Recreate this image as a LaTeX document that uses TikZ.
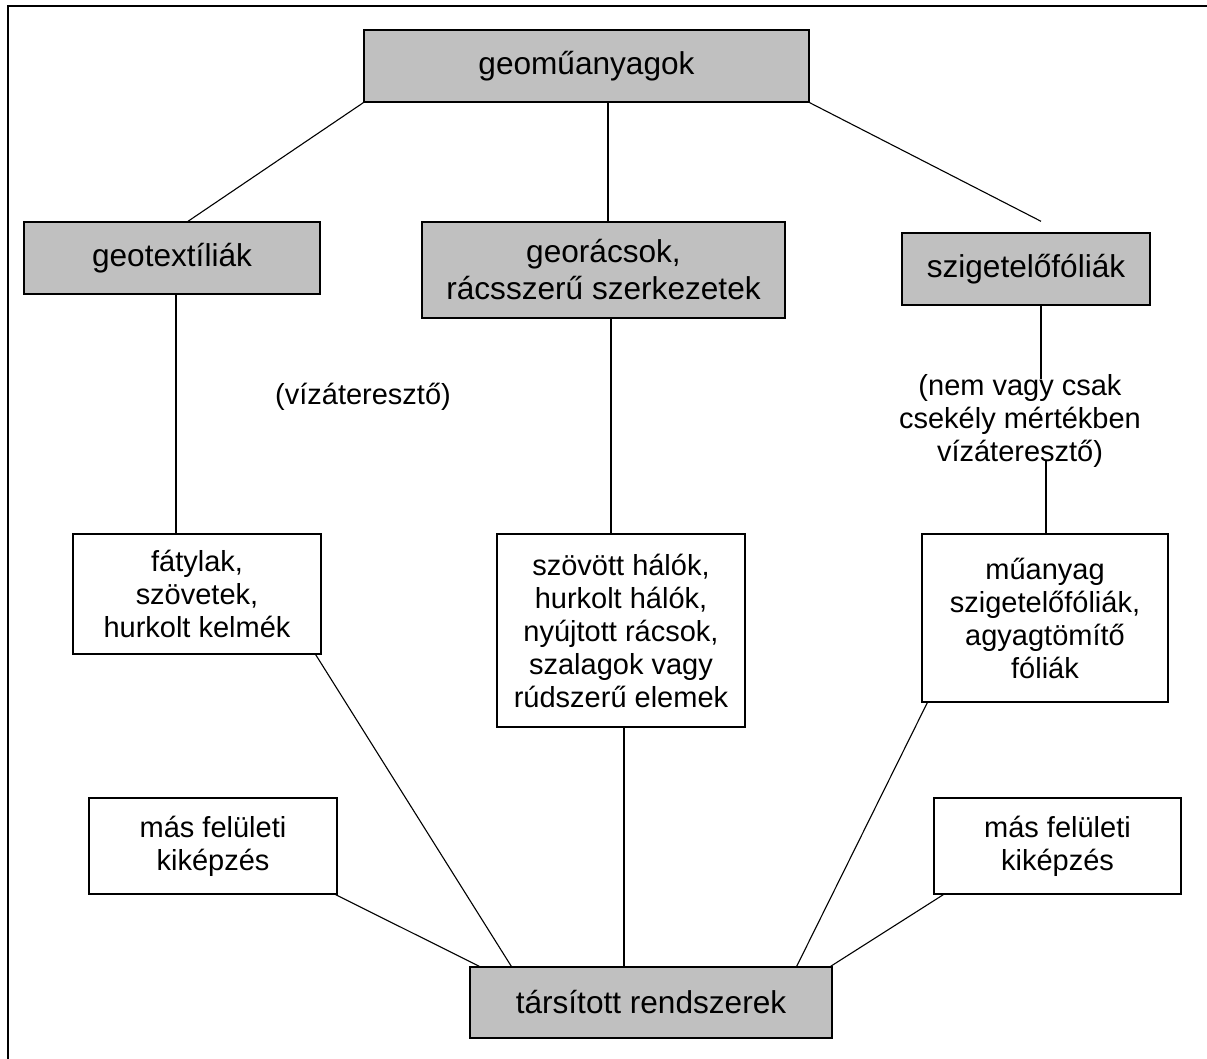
\documentclass[tikz,border=0pt]{standalone}
\usepackage{fontspec}
\setmainfont{Liberation Sans}
\usepackage{tikz}
\definecolor{boxgray}{RGB}{192,192,192}

\begin{document}
\begin{tikzpicture}[
                x=0.5pt, y=-0.5pt, % pixel grid, y grows downwards
                headbox/.style={rectangle, draw, line width=0.7pt, fill=boxgray, inner sep=0pt, align=center, font=\fontsize{15.8}{18.5}\selectfont}, % grey boxes
                itembox/.style={rectangle, draw, line width=0.7pt, fill=white, inner sep=0pt, align=center, font=\fontsize{14.5}{16.5}\selectfont}, % white boxes
                note/.style={inner sep=0pt, align=center, font=\fontsize{14.5}{16.5}\selectfont}, % free text
                link/.style={draw, line width=0.55pt} % connecting lines
                ]
                \useasboundingbox (0,0) rectangle (1207,1059);
                \draw[line width=1pt] (8,1059) -- (8,6) -- (1207,6); % frame
                % boxes
                \node[headbox, minimum width=222.5pt, minimum height=36pt] (geo) at (586.5,66) {geoműanyagok};
                \node[headbox, minimum width=148pt, minimum height=36pt] (gtex) at (172,258) {geotextíliák};
                \node[headbox, minimum width=181.5pt, minimum height=48pt] (grac) at (603.5,270) {georácsok,\\rácsszerű szerkezetek};
                \node[headbox, minimum width=124pt, minimum height=36pt] (szig) at (1026,269) {szigetelőfóliák};
                \node[itembox, minimum width=124pt, minimum height=60pt] (faty) at (197,594) {fátylak,\\szövetek,\\hurkolt kelmék};
                \node[itembox, minimum width=124pt, minimum height=96.5pt] (halo) at (621,630.5) {szövött hálók,\\hurkolt hálók,\\nyújtott rácsok,\\szalagok vagy\\rúdszerű elemek};
                \node[itembox, minimum width=123pt, minimum height=84pt] (fol) at (1045,618) {műanyag\\szigetelőfóliák,\\agyagtömítő\\fóliák};
                \node[itembox, minimum width=124pt, minimum height=48pt] (masl) at (213,846) {más felületi\\kiképzés};
                \node[itembox, minimum width=123.5pt, minimum height=48pt] (masr) at (1057.5,846) {más felületi\\kiképzés};
                \node[headbox, minimum width=181pt, minimum height=35.5pt] (tars) at (651,1002.5) {társított rendszerek};
                % texts
                \node[note] (viz) at (363,397) {(vízáteresztő)};
                \node[note] (nemviz) at (1020,421) {(nem vagy csak\\csekély mértékben\\vízáteresztő)};
                % lines
                \draw[link] (geo.south west) -- ([xshift=8pt]gtex.north);
                \draw[link] ([xshift=10.75pt]geo.south) -- ([xshift=2.25pt]grac.north);
                \draw[link] (geo.south east) -- ([xshift=7.5pt,yshift=5.5pt]szig.north);
                \draw[link] ([xshift=2pt]gtex.south) -- ([xshift=-10.5pt]faty.north);
                \draw[link] ([xshift=3.75pt]grac.south) -- ([xshift=-5pt]halo.north);
                \draw[link] ([xshift=7.5pt]szig.south) -- ([xshift=10.5pt,yshift=-2.5pt]nemviz.north);
                \draw[link] ([xshift=13pt,yshift=3.5pt]nemviz.south) -- ([xshift=0.5pt]fol.north);
                \draw[link] ([xshift=-3pt]faty.south east) -- ([xshift=21pt]tars.north west);
                \draw[link] ([xshift=-1pt]masl.south east) -- ([xshift=5pt]tars.north west);
                \draw[link] ([xshift=1.5pt]halo.south) -- ([xshift=-13.5pt]tars.north);
                \draw[link] ([xshift=3pt]fol.south west) -- ([xshift=-18pt]tars.north east);
                \draw[link] ([xshift=5pt]masr.south west) -- ([xshift=-1pt]tars.north east);
            \end{tikzpicture}
\end{document}
